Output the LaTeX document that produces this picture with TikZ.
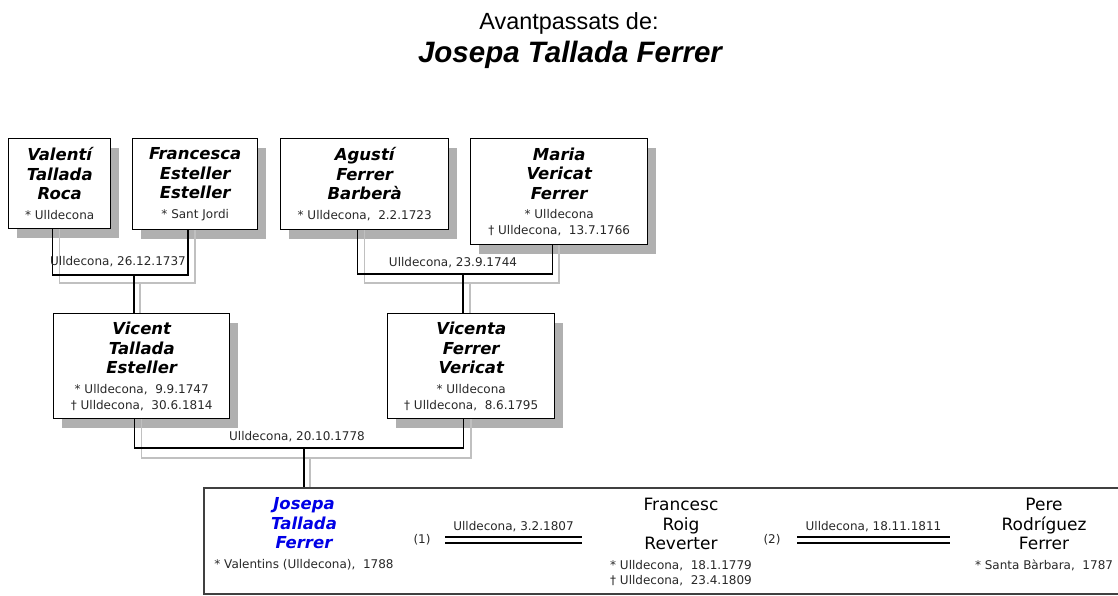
\documentclass[tikz,border=0pt]{standalone}
\usepackage{fontspec}
\usepackage{tikz}
\usetikzlibrary{shadows}
\newfontfamily\verdana{DejaVu Sans}
\newfontfamily\arial{Liberation Sans}
\definecolor{shade}{RGB}{176,176,176}
\definecolor{shadeline}{RGB}{192,192,192}
\definecolor{nameblue}{RGB}{0,0,230}
\definecolor{datecol}{RGB}{40,40,40}
\newcommand{\namefont}{\verdana\bfseries\itshape\fontsize{16.5}{19.5}\selectfont}
\newcommand{\regfont}{\verdana\fontsize{17}{19.5}\selectfont}
\newcommand{\datefont}{\verdana\mdseries\upshape\fontsize{12}{16}\selectfont\color{datecol}}
\tikzstyle{person} = [rectangle, draw=black, line width=1.4pt, fill=white, anchor=north west, align=center, inner sep=2pt, font=\namefont, drop shadow={shadow xshift=8pt, shadow yshift=-9pt, fill=shade, opacity=1}]
\tikzstyle{familybox} = [rectangle, draw=black!75, line width=1.6pt, fill=white, anchor=north west]
\tikzstyle{spouse} = [align=center, inner sep=0pt]
\tikzstyle{datetext} = [inner sep=1pt, font=\datefont]
\tikzstyle{couple} = [line width=1.5pt, draw=black]
\tikzstyle{coupleshade} = [line width=1.5pt, draw=shadeline]
\tikzstyle{marriage} = [line width=1.5pt, double=white, double distance=4.5pt]

\begin{document}
\begin{tikzpicture}[x=1pt, y=-1pt]
\useasboundingbox (0,0) rectangle (1118,595);
% title
\node (title) [anchor=base, font=\arial\fontsize{23.4}{28}\selectfont] at (569,29) {Avantpassats de:};
\node (who) [anchor=base, font=\arial\bfseries\itshape\fontsize{29.5}{34}\selectfont] at (570,62) {Josepa Tallada Ferrer};

% shadow lines first
\coordinate (c1s) at (140,283);
\coordinate (c2s) at (470,283);
\coordinate (c3s) at (310,458);

% grandparents
\node (valenti) [person, minimum width=102pt, minimum height=90pt] at (8,138) {Valentí\\Tallada\\Roca\\{\datefont * Ulldecona}};
\node (francesca) [person, minimum width=125pt, minimum height=91pt] at (132,138) {Francesca\\Esteller\\Esteller\\{\datefont * Sant Jordi}};
\node (agusti) [person, minimum width=168pt, minimum height=91pt] at (280,138) {Agustí\\Ferrer\\Barberà\\{\datefont * Ulldecona,~~2.2.1723}};
\node (maria) [person, minimum width=177pt, minimum height=106pt] at (470,138) {Maria\\Vericat\\Ferrer\\{\datefont * Ulldecona}\\[-3.5pt]{\datefont † Ulldecona,~~13.7.1766}};

% parents
\node (vicent) [person, minimum width=176pt, minimum height=105pt] at (53,313) {Vicent\\Tallada\\Esteller\\{\datefont * Ulldecona,~~9.9.1747}\\[-3.5pt]{\datefont † Ulldecona,~~30.6.1814}};
\node (vicenta) [person, minimum width=167pt, minimum height=105pt] at (387,313) {Vicenta\\Ferrer\\Vericat\\{\datefont * Ulldecona}\\[-3.5pt]{\datefont † Ulldecona,~~8.6.1795}};

% family of Josepa
\node (family) [familybox, minimum width=940pt, minimum height=106pt] at (203,487) {};
\node (josepa) [spouse, font=\namefont, text=nameblue] at (304,534) {Josepa\\Tallada\\Ferrer\\{\datefont * Valentins (Ulldecona),~~1788}};
\node (num1) [datetext] at (422,540) {(1)};
\node (francesc) [spouse, font=\regfont] at (681,542) {Francesc\\Roig\\Reverter\\{\datefont * Ulldecona,~~18.1.1779}\\[-4.5pt]{\datefont † Ulldecona,~~23.4.1809}};
\node (num2) [datetext] at (772,540) {(2)};
\node (pere) [spouse, font=\regfont] at (1044,534.5) {Pere\\Rodríguez\\Ferrer\\{\datefont * Santa Bàrbara,~~1787}};

% couples
\draw [coupleshade] (valenti.south) |- (c1s) -| (francesca.south);
\draw [coupleshade] (c1s) -- (vicent.north -| c1s);
\coordinate (c1) at (134,275);
\draw [couple] ([xshift=-7pt]valenti.south) |- (c1) -| ([xshift=-7pt]francesca.south);
\draw [couple] (c1) -- (vicent.north -| c1);
\node (m1) [datetext] at (118,262) {Ulldecona, 26.12.1737};

\draw [coupleshade] (agusti.south) |- (c2s) -| (maria.south);
\draw [coupleshade] (c2s) -- (vicenta.north -| c2s);
\coordinate (c2) at (463,274);
\draw [couple] ([xshift=-7pt]agusti.south) |- (c2) -| ([xshift=-6.5pt]maria.south);
\draw [couple] (c2) -- (vicenta.north -| c2);
\node (m2) [datetext] at (453,263) {Ulldecona, 23.9.1744};

\draw [coupleshade] (vicent.south) |- (c3s) -| (vicenta.south);
\draw [coupleshade] (c3s) -- (family.north -| c3s);
\coordinate (c3) at (304,448);
\draw [couple] ([xshift=-7pt]vicent.south) |- (c3) -| ([xshift=-7.5pt]vicenta.south);
\draw [couple] (c3) -- (family.north -| c3);
\node (m3) [datetext] at (297,437) {Ulldecona, 20.10.1778};

% marriages
\coordinate (w1a) at (445,540);
\coordinate (w1b) at (582,540);
\draw [marriage] (w1a) -- (w1b) node [datetext, midway, above=6pt] {Ulldecona, 3.2.1807};
\coordinate (w2a) at (797,540);
\coordinate (w2b) at (950,540);
\draw [marriage] (w2a) -- (w2b) node [datetext, midway, above=6pt] {Ulldecona, 18.11.1811};
\end{tikzpicture}
\end{document}
